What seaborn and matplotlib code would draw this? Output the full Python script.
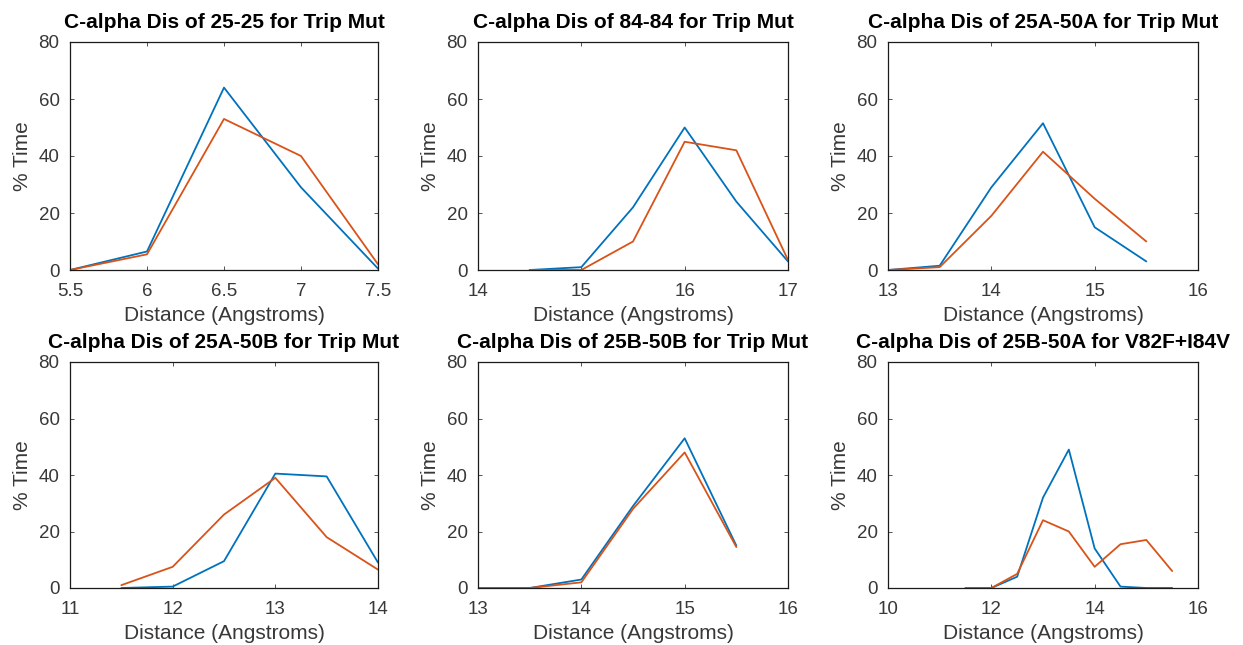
import numpy as np
import pandas as pd
import matplotlib
matplotlib.use("Agg")
import matplotlib.pyplot as plt
import seaborn as sns

# Distance bins (Angstroms) and % time for each pair; two simulations per panel
titles = [
    "C-alpha Dis of 25-25 for Trip Mut",
    "C-alpha Dis of 84-84 for Trip Mut",
    "C-alpha Dis of 25A-50A for Trip Mut",
    "C-alpha Dis of 25A-50B for Trip Mut",
    "C-alpha Dis of 25B-50B for Trip Mut",
    "C-alpha Dis of 25B-50A for V82F+I84V",
]

x1 = [5.5, 6.0, 6.5, 7.0, 7.5]
blue1 = [0.0, 6.5, 64.0, 29.0, 0.5]
orange1 = [0.0, 5.5, 53.0, 40.0, 2.0]

x2 = [14.5, 15.0, 15.5, 16.0, 16.5, 17.0]
blue2 = [0.0, 1.0, 22.0, 50.0, 24.0, 3.0]
orange2 = [0.0, 0.0, 10.0, 45.0, 42.0, 3.5]

x3 = [13.0, 13.5, 14.0, 14.5, 15.0, 15.5]
blue3 = [0.0, 1.5, 29.0, 51.5, 15.0, 3.0]
orange3 = [0.0, 1.0, 19.0, 41.5, 25.0, 10.0]

x4 = [11.5, 12.0, 12.5, 13.0, 13.5, 14.0]
blue4 = [0.0, 0.5, 9.5, 40.5, 39.5, 9.0]
orange4 = [1.0, 7.5, 26.0, 39.0, 18.0, 6.5]

x5 = [13.0, 13.5, 14.0, 14.5, 15.0, 15.5]
blue5 = [0.0, 0.0, 3.0, 29.0, 53.0, 15.0]
orange5 = [0.0, 0.0, 2.0, 28.0, 48.0, 14.5]

x6 = [11.5, 12.0, 12.5, 13.0, 13.5, 14.0, 14.5, 15.0, 15.5]
blue6 = [0.0, 0.0, 4.0, 32.0, 49.0, 14.0, 0.5, 0.0, 0.0]
orange6 = [0.0, 0.0, 5.0, 24.0, 20.0, 7.5, 15.5, 17.0, 6.0]

xlims = [(5.5, 7.5), (14, 17), (13, 16), (11, 14), (13, 16), (10, 16)]
xticks = [
    [5.5, 6, 6.5, 7, 7.5],
    [14, 15, 16, 17],
    [13, 14, 15, 16],
    [11, 12, 13, 14],
    [13, 14, 15, 16],
    [10, 12, 14, 16],
]
yticks = [0, 20, 40, 60, 80]

panels = [
    (x1, blue1, orange1),
    (x2, blue2, orange2),
    (x3, blue3, orange3),
    (x4, blue4, orange4),
    (x5, blue5, orange5),
    (x6, blue6, orange6),
]

sns.set_theme(style="ticks")
plt.rcParams["font.family"] = ["Liberation Sans", "DejaVu Sans"]

BLUE = "#0072BD"
ORANGE = "#D95319"
TEXT = "#383838"

W, H = 1243, 645
fig = plt.figure(figsize=(W / 100, H / 100), dpi=100)

# axes boxes in pixels: (left, right, top, bottom)
lefts = [70, 478, 888]
rights = [378, 788, 1198]
rows = [(42, 270), (362, 588)]

def fmt(v):
    return ("%g" % v)

for i, (xs, b, o) in enumerate(panels):
    r, c = divmod(i, 3)
    l, rr = lefts[c], rights[c]
    t, bt = rows[r]
    ax = fig.add_axes([l / W, 1 - bt / H, (rr - l) / W, (bt - t) / H])
    df = pd.DataFrame({
        "Distance": list(xs) * 2,
        "Time": list(b) + list(o),
        "run": ["a"] * len(xs) + ["b"] * len(xs),
    })
    sns.lineplot(data=df, x="Distance", y="Time", hue="run",
                 palette=[BLUE, ORANGE], linewidth=1.3, legend=False, ax=ax)
    ax.set_xlim(*xlims[i])
    ax.set_ylim(0, 80)
    ax.set_xticks(xticks[i])
    ax.set_xticklabels([fmt(v) for v in xticks[i]])
    ax.set_yticks(yticks)
    ax.tick_params(direction="in", top=True, right=True, length=3,
                   width=0.6, labelsize=13.5, colors=TEXT)
    ax.tick_params(axis="x", pad=9.5)
    ax.tick_params(axis="y", pad=7.5)
    for sp in ax.spines.values():
        sp.set_color("#1a1a1a")
        sp.set_linewidth(0.9)
    ax.set_xlabel("Distance (Angstroms)", fontsize=15, color=TEXT, labelpad=4)
    ax.set_ylabel("% Time", fontsize=15, color=TEXT, labelpad=5)
    ax.set_title(titles[i], fontsize=15, fontweight="bold", color="black", pad=10)

fig.savefig("out.png", dpi=100, facecolor="white")
